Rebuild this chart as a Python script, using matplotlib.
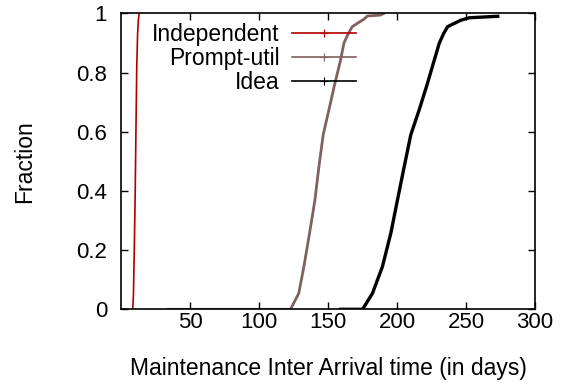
import matplotlib.pyplot as plt
from matplotlib.lines import Line2D

plt.rcParams['font.family'] = ['Liberation Sans', 'DejaVu Sans']
plt.rcParams['font.size'] = 16

# CDF of maintenance inter-arrival times (days, fraction)
indep_days = [8.5, 9.0, 9.6, 10.2, 10.8, 11.4, 12.0, 12.6, 13.2]
indep_frac = [0.0, 0.05, 0.2, 0.37, 0.6, 0.82, 0.93, 0.98, 1.0]

prompt_days = [34, 120, 122.8, 128.8, 132.5, 136.6, 140.5, 143.4, 146.5,
               150.6, 155.0, 159.1, 161.5, 164.7, 167.6, 171.2, 176.0,
               178.5, 188.0, 190.6]
prompt_frac = [0.0, 0.0, 0.0, 0.054, 0.144, 0.257, 0.369, 0.482, 0.59,
               0.673, 0.764, 0.842, 0.899, 0.932, 0.955, 0.966, 0.98,
               0.991, 0.994, 1.0]

idea_days = [159, 167.6, 175.0, 182.2, 189.4, 195.5, 200.3, 205.2, 210.0,
             216.0, 222.1, 227.0, 230.6, 233.8, 236.7, 241.5, 246.4,
             252.4, 273.0]
idea_frac = [0.0, 0.0, 0.0, 0.054, 0.144, 0.257, 0.369, 0.482, 0.59,
             0.673, 0.764, 0.842, 0.899, 0.932, 0.955, 0.966, 0.977,
             0.985, 0.99]

labels = ['Independent', 'Prompt-util', 'Idea']
colors = ['#b00000', '#806060', '#000000']

fig = plt.figure(figsize=(5.69, 3.86), dpi=100)
ax = fig.add_axes([0.2127, 0.1987, 0.7276, 0.7668])

ax.plot(indep_days, indep_frac, color=colors[0], lw=1.2)
ax.plot(prompt_days, prompt_frac, color=colors[1], lw=2.0)
ax.plot(idea_days, idea_frac, color=colors[2], lw=2.4)

ax.set_xlim(0, 300)
ax.set_ylim(0, 1)
ax.set_xticks([50, 100, 150, 200, 250, 300])
ax.set_yticks([0, 0.2, 0.4, 0.6, 0.8, 1.0])
ax.set_yticklabels(['0', '0.2', '0.4', '0.6', '0.8', '1'])
ax.tick_params(direction='in', length=5, width=1, top=True, right=True)
ax.tick_params(axis='x', pad=2)
ax.tick_params(axis='y', pad=10)
for s in ax.spines.values():
    s.set_linewidth(1.2)

ax.set_xlabel('Maintenance Inter Arrival time (in days)', fontsize=16.5)
ax.set_ylabel('Fraction', fontsize=16.5)
ax.xaxis.set_label_coords(0.5, -0.16)
ax.yaxis.set_label_coords(-0.205, 0.5)

handles = [Line2D([], [], color=c, lw=1.2, marker='+', markersize=6,
                  markeredgewidth=0.8) for c in colors]
fig.legend(handles, labels, loc='upper right', frameon=False,
           bbox_to_anchor=(0.6257, 0.9404), markerfirst=False,
           fontsize=16.5, handlelength=2.8, handletextpad=0.55,
           labelspacing=0.05, borderpad=0, borderaxespad=0)

fig.savefig('out.png', dpi=100)
